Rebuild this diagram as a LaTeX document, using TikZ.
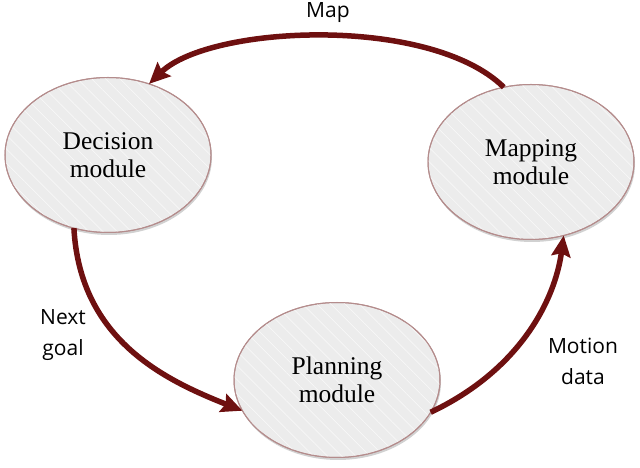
\documentclass[tikz,border=0pt]{standalone}
\usepackage{fontspec}
\setmainfont{Liberation Serif}
\newfontfamily\labfont{Open Sans}
\usetikzlibrary{shapes.geometric,arrows.meta,patterns.meta,shadows}
\definecolor{fillgray}{RGB}{236,236,236}
\definecolor{borderc}{RGB}{180,140,140}
\definecolor{arrowc}{RGB}{110,16,16}
\begin{document}
\begin{tikzpicture}[x=1pt,y=1pt,
  module/.style={ellipse, draw=borderc, line width=1pt, fill=fillgray,
    minimum width=206pt, minimum height=155pt, inner sep=0pt, outer sep=0pt,
    align=center, font=\fontsize{25.5}{28.5}\selectfont,
    drop shadow={shadow xshift=1pt, shadow yshift=-2.5pt, opacity=0.18, fill=black},
    postaction={pattern={Lines[angle=-45, distance=10pt, line width=0.7pt]}, pattern color=white!65!fillgray},
    postaction={draw=borderc, line width=1pt}},
  flow/.style={draw=arrowc, line width=5.5pt,
    -{Stealth[length=21pt, width=19pt, inset=3pt]}},
  lab/.style={align=center, inner sep=0pt, font=\labfont\fontsize{21}{31}\selectfont}]
\useasboundingbox (0,0) rectangle (640,468);
\node[module] (dec) at (108,313) {Decision\\module};
\node[module] (map) at (531,306) {Mapping\\module};
\node[module] (plan) at (337,88) {Planning\\module};
\draw[flow] (map.110.7) .. controls (430,453) and (210,443) .. (dec.60.7);
\draw[flow] (dec.245.7) .. controls (80,128) and (165,88) .. (plan.198.4);
\draw[flow] (plan.341.6) .. controls (520,98) and (555,168) .. (map.294.4);
\node[lab, anchor=base] (lmap) at (328,450) {Map};
\node[lab] (lnext) at (63,133) {Next\\goal};
\node[lab] (lmot) at (583,106.5) {Motion\\data};
\end{tikzpicture}
\end{document}
